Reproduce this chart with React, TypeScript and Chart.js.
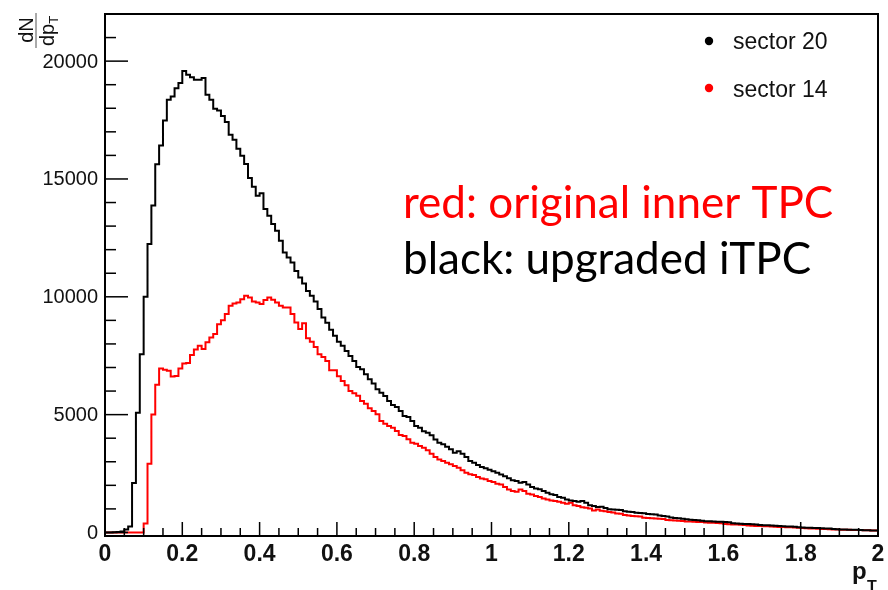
import { useEffect, useRef } from "react";
import { Chart, registerables } from "chart.js";

Chart.register(...registerables);

// Histogram binning: 200 bins of width 0.01 GeV/c from 0 to 2
const binWidth = 0.01;

// dN/dpT per bin, sector 20 (upgraded iTPC)
const sector20 = [
  0, 0, 10, 20, 40, 130, 250, 2100, 5080, 7560,
  10000, 12240, 13870, 15620, 16420, 17480, 18360, 18500, 18850, 19070,
  19580, 19420, 19320, 19210, 19210, 19280, 18570, 18360, 17980, 17900,
  17670, 17420, 16880, 16660, 16280, 15990, 15640, 15045, 14675, 14290,
  14390, 13730, 13440, 13090, 12800, 12380, 11880, 11670, 11460, 11100,
  10820, 10560, 10250, 10040, 9800, 9480, 9120, 8900, 8600, 8350,
  8090, 7920, 7700, 7490, 7280, 7020, 6930, 6710, 6500, 6320,
  6080, 5930, 5790, 5580, 5410, 5320, 5150, 4940, 4900, 4730,
  4520, 4440, 4300, 4230, 4130, 3950, 3810, 3740, 3640, 3530,
  3380, 3450, 3340, 3200, 3030, 2960, 2860, 2780, 2720, 2660,
  2600, 2530, 2460, 2390, 2300, 2220, 2180, 2110, 2140, 2040,
  1930, 1870, 1830, 1760, 1680, 1620, 1590, 1500, 1470, 1400,
  1360, 1330, 1300, 1330, 1260, 1160, 1120, 1080, 1090, 1040,
  990, 970, 960, 950, 900, 880, 870, 840, 830, 820,
  780, 770, 760, 720, 700, 680, 630, 610, 600, 580,
  560, 540, 530, 520, 500, 480, 480, 460, 450, 450,
  440, 430, 390, 380, 370, 360, 360, 350, 340, 320,
  310, 310, 300, 290, 270, 260, 250, 250, 240, 220,
  210, 200, 200, 190, 190, 180, 170, 170, 150, 140,
  130, 130, 120, 120, 110, 100, 90, 90, 80, 80,
];

// dN/dpT per bin, sector 14 (original inner TPC)
const sector14 = [
  0, 0, 0, 0, 0, 0, 0, 0, 0, 0,
  380, 2920, 5010, 6270, 6960, 6900, 6860, 6620, 6640, 6960,
  7170, 7190, 7530, 7760, 7920, 7790, 8070, 8270, 8420, 8840,
  9000, 9265, 9620, 9715, 9760, 9900, 10040, 9970, 9800, 9760,
  9690, 9860, 9970, 9870, 9760, 9620, 9545, 9545, 9265, 8910,
  8630, 8880, 8245, 8090, 7875, 7565, 7450, 7280, 6880, 6880,
  6630, 6430, 6250, 6005, 5910, 5800, 5580, 5466, 5270, 5155,
  5013, 4730, 4615, 4518, 4445, 4305, 4135, 4093, 3953, 3808,
  3765, 3668, 3595, 3485, 3340, 3200, 3100, 3030, 2958, 2890,
  2818, 2745, 2635, 2533, 2465, 2435, 2350, 2295, 2253, 2180,
  2138, 2066, 2040, 1925, 1828, 1755, 1726, 1828, 1755, 1640,
  1615, 1543, 1500, 1445, 1402, 1360, 1330, 1300, 1258, 1215,
  1258, 1160, 1118, 1075, 1045, 1020, 935, 978, 920, 905,
  870, 850, 800, 790, 740, 720, 700, 690, 680, 620,
  610, 600, 590, 580, 570, 530, 520, 510, 500, 490,
  470, 460, 450, 440, 440, 420, 410, 410, 400, 390,
  360, 350, 340, 340, 330, 320, 300, 280, 270, 270,
  260, 260, 250, 240, 230, 230, 220, 220, 210, 200,
  190, 180, 170, 170, 160, 150, 150, 140, 130, 130,
  120, 110, 110, 100, 100, 100, 90, 90, 80, 80,
];

// Axis ticks and labels
const xTickValues = [0, 0.2, 0.4, 0.6, 0.8, 1, 1.2, 1.4, 1.6, 1.8, 2];
const xTickLabels = ["0", "0.2", "0.4", "0.6", "0.8", "1", "1.2", "1.4", "1.6", "1.8", "2"];
const xMinorStep = 0.05;
const yTickValues = [0, 5000, 10000, 15000, 20000];
const yTickLabels = ["0", "5000", "10000", "15000", "20000"];
const yMinorStep = 1000;

// Legend and annotation text
const legendLabels = ["sector 20", "sector 14"];
const seriesColors = ["#000000", "#ff0000"];
const noteLines = ["red: original inner TPC", "black: upgraded iTPC"];

// Bin low edges plus a closing point at the upper edge of the last bin
function toSteps(values: number[]) {
  const pts = values.map((v, i) => ({ x: Math.round(i * binWidth * 100) / 100, y: v }));
  pts.push({ x: Math.round(values.length * binWidth * 100) / 100, y: values[values.length - 1] });
  return pts;
}

const FONT = '"Liberation Sans", Arial, sans-serif';

const rootStyleAxes = {
  id: "rootStyleAxes",
  afterDatasetsDraw(chart: any) {
    const { ctx, chartArea: a, scales } = chart;
    const xs = scales.x;
    const ys = scales.y;
    ctx.save();

    // frame
    ctx.strokeStyle = "#000";
    ctx.lineWidth = 2;
    ctx.strokeRect(a.left, a.top, a.right - a.left, a.bottom - a.top);

    const seg = (x1: number, y1: number, x2: number, y2: number) => {
      ctx.beginPath();
      ctx.moveTo(x1, y1);
      ctx.lineTo(x2, y2);
      ctx.stroke();
    };

    // y ticks (drawn inward from the left frame)
    ctx.lineWidth = 1.5;
    for (let v = 0; v < ys.max; v += yMinorStep) {
      const py = ys.getPixelForValue(v);
      const major = yTickValues.includes(v);
      seg(a.left, py, a.left + (major ? 23 : 11), py);
    }
    // x ticks (drawn upward from the bottom frame)
    for (let k = 0; k * xMinorStep <= xs.max + 1e-9; k++) {
      const v = k * xMinorStep;
      const px = xs.getPixelForValue(v);
      const major = k % 4 === 0;
      seg(px, a.bottom, px, a.bottom - (major ? 14 : 8));
    }

    // tick labels
    ctx.fillStyle = "#111";
    ctx.font = `20px ${FONT}`;
    ctx.textAlign = "right";
    ctx.textBaseline = "middle";
    yTickValues.forEach((v, i) => {
      ctx.fillText(yTickLabels[i], a.left - 7, ys.getPixelForValue(v) + 1);
    });
    ctx.font = `bold 23px ${FONT}`;
    ctx.textAlign = "center";
    ctx.textBaseline = "alphabetic";
    xTickValues.forEach((v, i) => {
      ctx.fillText(xTickLabels[i], xs.getPixelForValue(v), 561);
    });

    // x-axis title: p_T
    ctx.textAlign = "left";
    ctx.font = `bold 24px ${FONT}`;
    ctx.fillText("p", 852, 579);
    ctx.font = `bold 16px ${FONT}`;
    ctx.fillText("T", 867, 592);

    // y-axis title: dN / dp_T, rotated
    ctx.save();
    ctx.translate(36, 31);
    ctx.rotate(-Math.PI / 2);
    ctx.font = `20px ${FONT}`;
    ctx.textAlign = "center";
    ctx.fillText("dN", 1, -3);
    ctx.textAlign = "left";
    ctx.fillText("dp", -15, 18);
    const dpw = ctx.measureText("dp").width;
    ctx.font = `13px ${FONT}`;
    ctx.fillText("T", -15 + dpw, 22);
    ctx.strokeStyle = "#555";
    ctx.lineWidth = 1;
    seg(-17, 0, 18, 0);
    ctx.restore();

    // legend
    ctx.font = `23px ${FONT}`;
    ctx.textAlign = "left";
    ctx.textBaseline = "alphabetic";
    const legendRows = [{ my: 41, by: 49 }, { my: 88, by: 97 }];
    legendLabels.forEach((lab, i) => {
      ctx.fillStyle = seriesColors[i];
      ctx.beginPath();
      ctx.arc(709, legendRows[i].my, 4.2, 0, Math.PI * 2);
      ctx.fill();
      ctx.fillStyle = "#111";
      ctx.fillText(lab, 733, legendRows[i].by);
    });

    // annotation
    ctx.font = `44px Lato, "Open Sans", sans-serif`;
    ctx.fillStyle = "#ff0000";
    ctx.fillText(noteLines[0], 403, 218);
    ctx.fillStyle = "#000";
    ctx.fillText(noteLines[1], 403, 274);

    ctx.restore();
  },
};

export default function App() {
  const canvasRef = useRef<HTMLCanvasElement | null>(null);

  useEffect(() => {
    const canvas = canvasRef.current;
    if (!canvas) return;
    const chart = new Chart(canvas, {
      type: "line",
      data: {
        datasets: [
          {
            label: legendLabels[0],
            data: toSteps(sector20),
            borderColor: seriesColors[0],
            borderWidth: 2,
            stepped: "before",
            pointRadius: 0,
            fill: false,
          },
          {
            label: legendLabels[1],
            data: toSteps(sector14),
            borderColor: seriesColors[1],
            borderWidth: 2,
            stepped: "before",
            pointRadius: 0,
            fill: false,
          },
        ],
      },
      options: {
        animation: false,
        responsive: false,
        devicePixelRatio: 1,
        layout: { padding: { left: 105, right: 10, top: 14, bottom: 54 } },
        plugins: { legend: { display: false }, tooltip: { enabled: false } },
        scales: {
          x: { type: "linear", min: 0, max: 2, display: false },
          y: { type: "linear", min: -150, max: 22000, display: false },
        },
      },
      plugins: [rootStyleAxes],
    });
    return () => chart.destroy();
  }, []);

  return (
    <div style={{ position: "fixed", left: 0, top: 0, width: 888, height: 590, background: "#fff" }}>
      <canvas ref={canvasRef} width={888} height={590} />
    </div>
  );
}
